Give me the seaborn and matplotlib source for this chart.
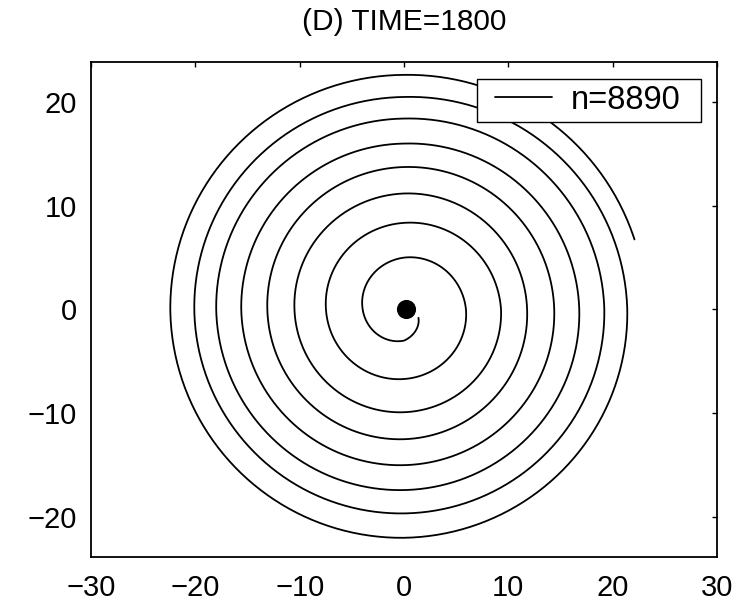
import numpy as np
import pandas as pd
import matplotlib
matplotlib.use("Agg")
import matplotlib.pyplot as plt
import seaborn as sns
from matplotlib.legend_handler import HandlerLine2D

# Spiral trace: radius at successive quarter turns, clockwise from the core outward.
# Angles are measured clockwise from the +x axis (degrees, unwrapped).
turn_angle_deg = [30, 90, 180, 270,
                  360, 450, 540, 630,
                  720, 810, 900, 990,
                  1080, 1170, 1260, 1350,
                  1440, 1530, 1620, 1710,
                  1800, 1890, 1980, 2070,
                  2160, 2250, 2340, 2430,
                  2520, 2610, 2700, 2790,
                  2863]
turn_radius = [1.6, 3.0, 3.96, 5.0,
               5.94, 6.7, 7.48, 8.35,
               9.30, 9.9, 10.5, 11.18,
               11.8, 12.5, 13.1, 13.73,
               14.4, 15.0, 15.6, 15.99,
               16.8, 17.4, 18.0, 18.4,
               19.2, 19.65, 20.1, 20.48,
               21.4, 22.0, 22.4, 22.61,
               23.1]

# Dense tangle of points at the spiral core
core_x = [0.19]
core_y = [0.06]

title_text = "(D) TIME=1800"
legend_label = "n=8890"
x_ticks = [-30, -20, -10, 0, 10, 20, 30]
y_ticks = [-20, -10, 0, 10, 20]

sns.set_theme(style="white")
plt.rcParams["font.family"] = ["Liberation Sans", "DejaVu Sans"]
plt.rcParams["axes.unicode_minus"] = True
plt.rcParams["text.color"] = "black"

fig = plt.figure(figsize=(7.52, 6.05), dpi=100)
ax = fig.add_axes([91 / 752, 1 - 557 / 605, (717 - 91) / 752, (557 - 62) / 605])

# Trace the spiral along its angle, radius following the quarter-turn readings
phi = np.linspace(turn_angle_deg[0], turn_angle_deg[-1], 4000)
rad = np.interp(phi, turn_angle_deg, turn_radius)
theta = -np.deg2rad(phi)
spiral = pd.DataFrame({"x": rad * np.cos(theta), "y": rad * np.sin(theta)})

sns.lineplot(data=spiral, x="x", y="y", sort=False, estimator=None,
             color="black", linewidth=1.3, ax=ax, label=legend_label)
sns.scatterplot(x=core_x, y=core_y, s=190, color="black", edgecolor="black",
                linewidth=0, ax=ax, legend=False)

ax.set_xlim(-30, 30)
ax.set_ylim(-23.85, 23.85)
ax.set_xticks(x_ticks)
ax.set_yticks(y_ticks)
ax.set_xlabel("")
ax.set_ylabel("")

for side in ["left", "right", "top", "bottom"]:
    ax.spines[side].set_visible(True)
    ax.spines[side].set_color("black")
    ax.spines[side].set_linewidth(1.3)

ax.tick_params(axis="both", which="both", direction="in", length=3.8, width=1.0,
               color="black", top=True, right=True, labelsize=21, labelcolor="black")
ax.tick_params(axis="x", pad=12)
ax.tick_params(axis="y", pad=10)

# Legend box spans a fixed width; the entry sits at its left with an indented handle
leg = ax.legend(loc="upper left",
                bbox_to_anchor=(477 / 752, 1 - 122 / 605, 224 / 752, 43 / 605),
                bbox_transform=fig.transFigure, mode="expand", borderaxespad=0,
                fontsize=23.5, frameon=True, fancybox=False, framealpha=1,
                edgecolor="black", borderpad=0.18, handlelength=2.13,
                handletextpad=0.58, labelcolor="black",
                handler_map={matplotlib.lines.Line2D: HandlerLine2D(xpad=0.38)})
leg.get_frame().set_linewidth(1.0)

fig.text(404 / 752, 1 - 30 / 605, title_text, ha="center", va="baseline",
         fontsize=21.5, color="black")

fig.savefig("out.png", dpi=100, facecolor="white")
